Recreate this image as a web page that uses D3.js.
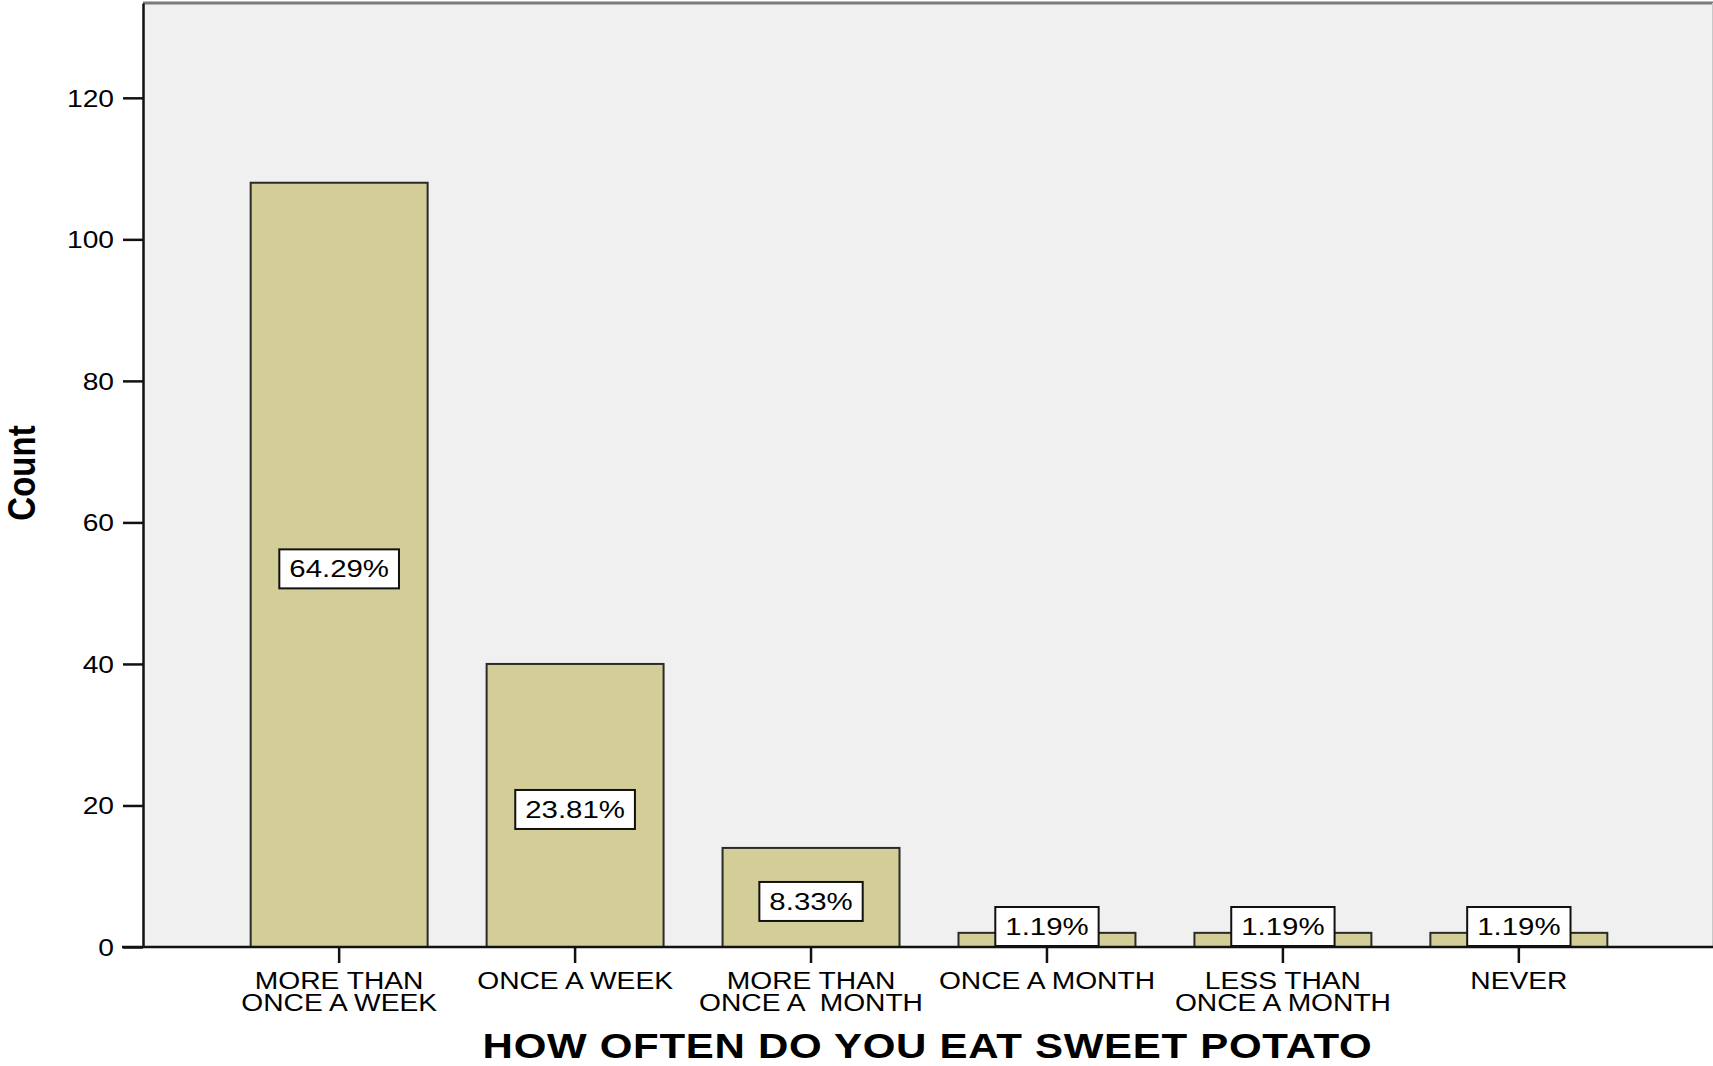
<!DOCTYPE html>
<html>
<head>
<meta charset="utf-8">
<script src="https://cdn.jsdelivr.net/npm/d3@7"></script>
<style>
  html, body { margin: 0; padding: 0; background: #ffffff; }
  svg { display: block; }
  text { font-family: "Liberation Sans", Arial, sans-serif; fill: #000; }
</style>
</head>
<body>
<svg id="chart" width="1713" height="1066"></svg>
<script>
// ---- data ----
const categories = [
  "MORE THAN\nONCE A WEEK",
  "ONCE A WEEK",
  "MORE THAN\nONCE A  MONTH",
  "ONCE A MONTH",
  "LESS THAN\nONCE A MONTH",
  "NEVER"
];
const counts = [108, 40, 14, 2, 2, 2];
const percentLabels = ["64.29%", "23.81%", "8.33%", "1.19%", "1.19%", "1.19%"];
const yTicks = [0, 20, 40, 60, 80, 100, 120];
const xTitle = "HOW OFTEN DO YOU EAT SWEET POTATO";
const yTitle = "Count";

// ---- layout ----
const W = 1713, H = 1066;
const plotLeft = 143, plotRight = 1712, plotTop = 3, plotBottom = 947;
const SX = 1.2; // horizontal stretch of the original text rendering

const svg = d3.select("#chart");

const x = d3.scaleBand()
  .domain(categories)
  .range([plotLeft + 1.5, plotRight + 1.5])
  .paddingInner(0.25)
  .paddingOuter(0.45);

const y = d3.scaleLinear()
  .domain([0, 133.4])
  .range([plotBottom, plotTop]);

// plot background
svg.append("rect")
  .attr("x", plotLeft).attr("y", plotTop)
  .attr("width", plotRight - plotLeft).attr("height", plotBottom - plotTop)
  .attr("fill", "#f0f0f0");

// top border & right border
svg.append("line")
  .attr("x1", plotLeft).attr("x2", W).attr("y1", plotTop).attr("y2", plotTop)
  .attr("stroke", "#7a7a7a").attr("stroke-width", 3);
svg.append("line")
  .attr("x1", plotRight + 0.5).attr("x2", plotRight + 0.5).attr("y1", plotTop).attr("y2", plotBottom)
  .attr("stroke", "#c8c8c8").attr("stroke-width", 1);

// bars
svg.append("g").selectAll("rect")
  .data(categories)
  .join("rect")
  .attr("x", d => x(d))
  .attr("y", (d, i) => y(counts[i]))
  .attr("width", x.bandwidth())
  .attr("height", (d, i) => y(0) - y(counts[i]))
  .attr("fill", "#d3ce97")
  .attr("stroke", "#2a2a2a")
  .attr("stroke-width", 2);

// y axis
const yAxisG = svg.append("g")
  .attr("transform", `translate(${plotLeft},0)`)
  .call(d3.axisLeft(y).tickValues(yTicks).tickSize(20).tickPadding(4).tickSizeOuter(0));
yAxisG.select(".domain").attr("stroke", "#111").attr("stroke-width", 2.5);
yAxisG.selectAll(".tick line").attr("stroke", "#111").attr("stroke-width", 2.5);
yAxisG.selectAll(".tick text")
  .attr("font-size", 23.5)
  .attr("font-family", "Liberation Sans, Arial, sans-serif")
  .attr("fill", "#111")
  .each(function() {
    const t = d3.select(this);
    t.attr("x", null).attr("text-anchor", "end")
     .attr("transform", `translate(-29,0) scale(${SX},1)`)
     .attr("dy", "0.35em");
  });

// x axis
const xAxisG = svg.append("g")
  .attr("transform", `translate(0,${plotBottom})`)
  .call(d3.axisBottom(x).tickSize(16).tickSizeOuter(0).tickFormat(""));
xAxisG.select(".domain").attr("stroke", "#111").attr("stroke-width", 2.5)
  .attr("d", `M${plotLeft - 21},0H${W}`);
xAxisG.selectAll(".tick line").attr("stroke", "#111").attr("stroke-width", 2.5);

// multi-line tick labels
xAxisG.selectAll(".tick").each(function(d) {
  const g = d3.select(this);
  const lines = d.split("\n");
  const t = g.append("text")
    .attr("text-anchor", "middle")
    .attr("font-size", 23.5)
    .attr("style", "white-space: pre")
    .attr("fill", "#111")
    .attr("transform", `scale(${SX},1)`);
  lines.forEach((ln, i) => {
    t.append("tspan").attr("x", 0).attr("y", 42 + i * 22).text(ln);
  });
});

// value labels (boxed)
const yZero = y(0);
const labG = svg.append("g");
categories.forEach((c, i) => {
  const cx = x(c) + x.bandwidth() / 2;
  const boxH = 39;
  let cy = y(counts[i] / 2) + 4;
  if (cy + boxH / 2 > yZero - 1) cy = yZero - 1 - boxH / 2;
  const g = labG.append("g");
  const rect = g.append("rect");
  const t = g.append("text")
    .attr("text-anchor", "middle")
    .attr("font-size", 24.5)
    .attr("dy", "0.35em")
    .attr("transform", `translate(${cx},${cy}) scale(${SX},1)`)
    .text(percentLabels[i]);
  const tw = t.node().getComputedTextLength() * SX;
  rect.attr("x", cx - tw / 2 - 10).attr("y", cy - boxH / 2)
    .attr("width", tw + 20).attr("height", boxH)
    .attr("fill", "#ffffff").attr("stroke", "#111").attr("stroke-width", 2);
});

// axis titles
svg.append("text")
  .attr("text-anchor", "middle")
  .attr("font-size", 35)
  .attr("font-weight", "bold")
  .attr("letter-spacing", 0.6)
  .attr("transform", `translate(${(plotLeft + plotRight) / 2},1058) scale(${SX},1)`)
  .text(xTitle);

svg.append("text")
  .attr("text-anchor", "middle")
  .attr("font-size", 33)
  .attr("font-weight", "bold")
  .attr("transform", `translate(35,473) scale(${SX},1) rotate(-90)`)
  .text(yTitle);
</script>
</body>
</html>
